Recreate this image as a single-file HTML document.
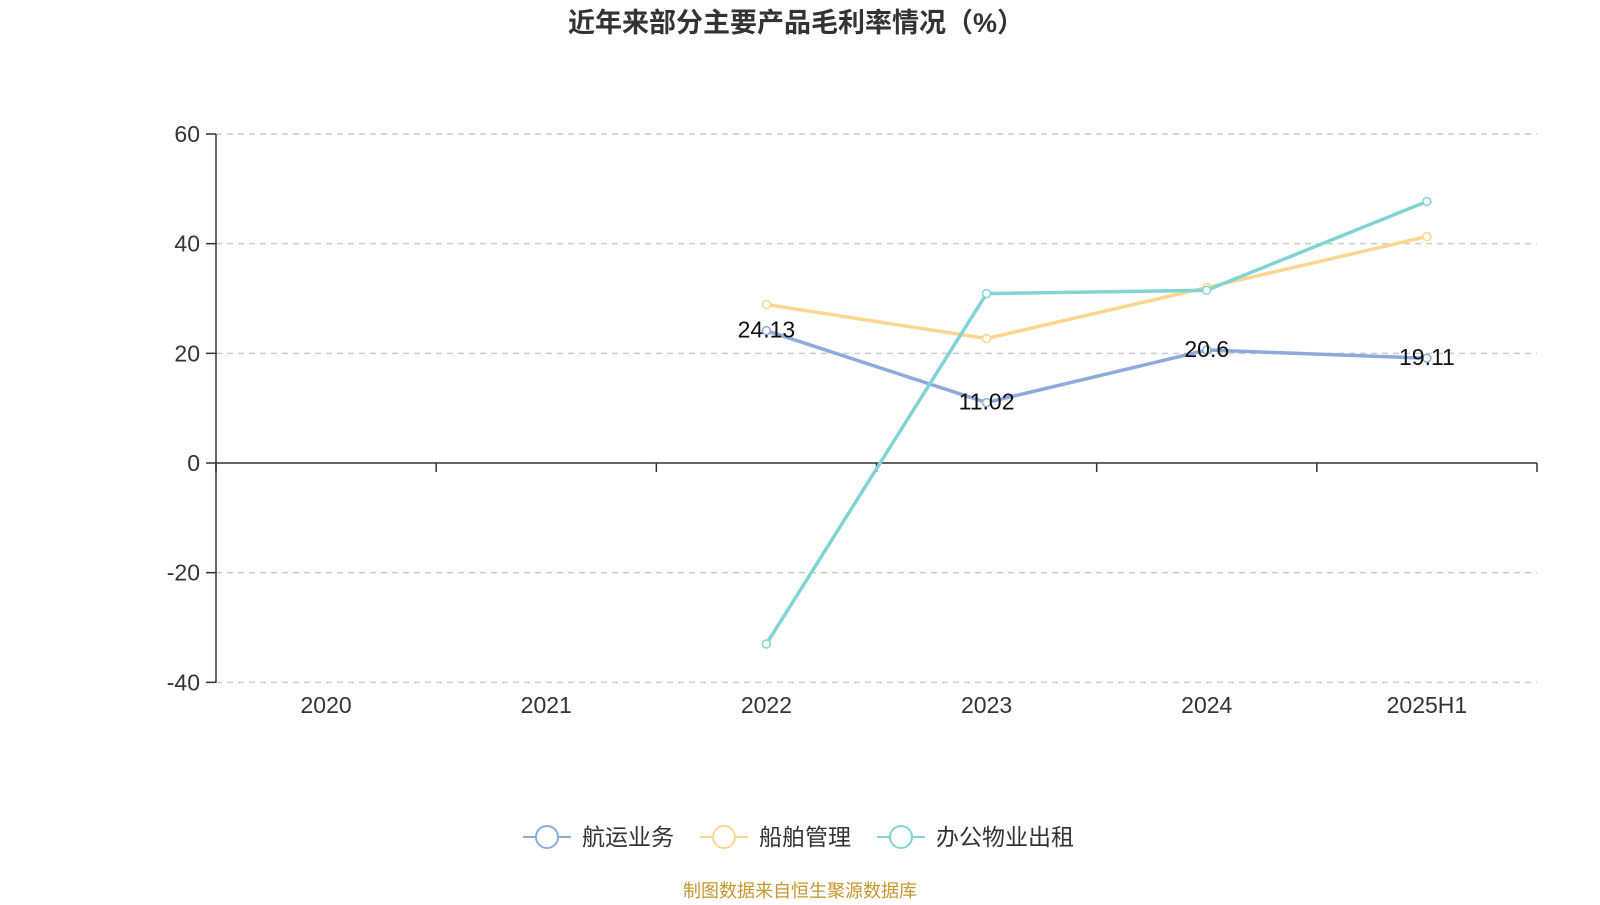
<!DOCTYPE html>
<html><head><meta charset="utf-8"><style>
body{margin:0;background:#fff;}
svg text{font-family:"Liberation Sans","Noto Sans CJK SC",sans-serif;}
</style></head><body>
<svg id="chart" width="1600" height="900" xmlns="http://www.w3.org/2000/svg">
<text x="796" y="32" text-anchor="middle" font-size="27" font-weight="bold" fill="#333">近年来部分主要产品毛利率情况（%）</text>
<g id="grid"></g><g id="axes"></g><g id="series"></g>
<g font-size="23" fill="#333">
<g><line x1="523" y1="837" x2="571" y2="837" stroke="#8eaadb" stroke-width="2"/><circle cx="547" cy="837" r="11" fill="#fff" stroke="#8eaadb" stroke-width="2"/><text x="582" y="845">航运业务</text></g>
<g><line x1="700" y1="837" x2="748" y2="837" stroke="#fdd68f" stroke-width="2"/><circle cx="724" cy="837" r="11" fill="#fff" stroke="#fdd68f" stroke-width="2"/><text x="759" y="845">船舶管理</text></g>
<g><line x1="877" y1="837" x2="925" y2="837" stroke="#82d4d4" stroke-width="2"/><circle cx="901" cy="837" r="11" fill="#fff" stroke="#82d4d4" stroke-width="2"/><text x="936" y="845">办公物业出租</text></g>
</g>
<text x="800" y="897" text-anchor="middle" font-size="18" fill="#c8962e">制图数据来自恒生聚源数据库</text>
</svg>
<script>
const categories=["2020","2021","2022","2023","2024","2025H1"];
const shipping=[null,null,24.13,11.02,20.6,19.11];
const shipMgmt=[null,null,28.9,22.7,32.0,41.3];
const officeRental=[null,null,-33.0,30.9,31.5,47.7];
const yTicks=[60,40,20,0,-20,-40];
const NS="http://www.w3.org/2000/svg";
const x0=216,x1=1537,bw=(x1-x0)/categories.length;
const xs=i=>x0+bw*(i+0.5);
const ys=v=>463-v*(329/60);
function mk(t,a,p){const e=document.createElementNS(NS,t);for(const k in a)e.setAttribute(k,a[k]);p.appendChild(e);return e;}
const grid=document.getElementById('grid'),axes=document.getElementById('axes'),ser=document.getElementById('series');
yTicks.forEach(v=>{
 if(v!==0){const l=mk('line',{x1:x0,x2:x1,y1:ys(v),y2:ys(v),stroke:'#ccc','stroke-dasharray':'6,5','stroke-width':1.5},grid);
 }
 const tk=mk('line',{x1:x0-10,x2:x0,y1:ys(v),y2:ys(v),stroke:'#333','stroke-width':1.5},axes);
 
 const t=mk('text',{x:x0-16,y:ys(v)+8,'text-anchor':'end','font-size':23,fill:'#333'},axes);t.textContent=v;
 
});
const ya=mk('line',{x1:x0,x2:x0,y1:ys(60),y2:ys(-40),stroke:'#333','stroke-width':1.5},axes);

const xa=mk('line',{x1:x0,x2:x1,y1:ys(0),y2:ys(0),stroke:'#333','stroke-width':1.5},axes);

for(let i=0;i<=categories.length;i++){const t=mk('line',{x1:x0+bw*i,x2:x0+bw*i,y1:ys(0),y2:ys(0)+9,stroke:'#333','stroke-width':1.5},axes);
 }
categories.forEach((c,i)=>{const t=mk('text',{x:xs(i),y:713,'text-anchor':'middle','font-size':23,fill:'#333'},axes);t.textContent=c;
 });
function draw(data,color,name,labels){
 const pts=data.map((v,i)=>v==null?null:[xs(i),ys(v)]).filter(p=>p);
 const pl=mk('polyline',{points:pts.map(p=>p.join(',')).join(' '),fill:'none',stroke:color,'stroke-width':3.5},ser);
 
 data.forEach((v,i)=>{if(v==null)return;
  const c=mk('circle',{cx:xs(i),cy:ys(v),r:4,fill:'#fff',stroke:color,'stroke-width':1.5},ser);
  
  if(labels){const t=mk('text',{x:xs(i),y:ys(v)+7,'text-anchor':'middle','font-size':23,fill:'#111'},ser);t.textContent=v;
   }
 });
}
draw(shipMgmt,'#fdd68f','ship-management',false);
draw(shipping,'#8eaadb','shipping',true);
draw(officeRental,'#82d4d4','office-rental',false);
</script>
</body></html>
